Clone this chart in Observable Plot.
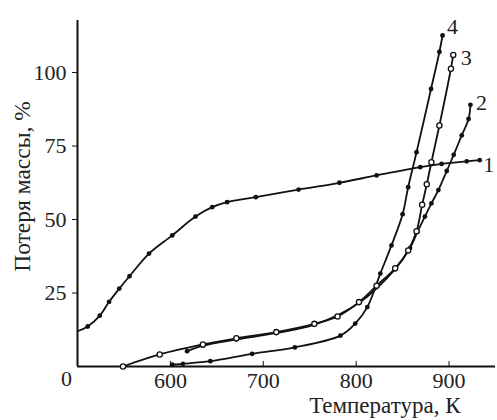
<!DOCTYPE html>
<html><head><meta charset="utf-8">
<script src="https://cdn.jsdelivr.net/npm/d3@7"></script>
<script src="https://cdn.jsdelivr.net/npm/@observablehq/plot@0.6"></script>
<style>
body{margin:0;background:#fff}
svg, svg text{font-family: "Liberation Serif", "Times New Roman", serif !important;}
</style>
</head><body><div id="chart"></div>
<script>
const series = ["1", "2", "3", "4"];
// Curve 1
const t1 = [500, 511, 524, 534, 545, 556, 577, 602, 627, 645, 661, 692, 738, 782, 822, 869, 892, 919, 933];
const w1 = [12, 13.6, 17.3, 22, 26.5, 30.7, 38.4, 44.6, 51, 54.2, 55.9, 57.6, 60.2, 62.5, 65, 67.8, 68.9, 69.8, 70.2];
// Curve 2
const t2 = [618, 635, 671, 714, 755, 803, 842, 858, 866, 874, 881, 888.5, 897.5, 905, 913.6, 921, 923];
const w2 = [5.2, 7.1, 9.2, 11.4, 14.2, 21.6, 33.1, 40.3, 45.8, 51, 55.5, 60, 66.5, 72, 78.6, 84.2, 89];
// Curve 3
const t3 = [549, 588.5, 635, 671, 714, 755, 780, 803, 822, 842, 856, 865, 871, 876, 881, 889.6, 902, 904.5];
const w3 = [0, 4.1, 7.5, 9.6, 11.7, 14.5, 17, 21.9, 27.5, 33.4, 39.5, 46, 55, 62, 69.5, 82, 101.3, 106];
// Curve 4
const t4 = [602, 613.6, 643, 688, 734, 783, 799, 812, 826, 838, 850, 856, 865, 880.6, 889.6, 893];
const w4 = [0.6, 0.9, 1.8, 4.3, 6.5, 10.5, 14.6, 20.2, 31.6, 41.2, 51.8, 61, 72.9, 94.4, 107, 112.6];

const xTicks = [600, 700, 800, 900];
const yTicks = [25, 50, 75, 100];
const xLabel = "Температура, К";
const yLabel = "Потеря массы, %";

const rows = [];
[[t1, w1], [t2, w2], [t3, w3], [t4, w4]].forEach(([t, w], i) =>
  t.forEach((x, j) => rows.push({s: series[i], t: x, w: w[j]})));
const lastOf = s => rows.filter(d => d.s === s).slice(-1)[0];
const labelOffsets = {"1": [9, 5], "2": [11, -2], "3": [13, 3], "4": [10, -9]};

const ink = "#111";
const chart = Plot.plot({
  width: 497, height: 420,
  marginLeft: 77, marginRight: 2, marginTop: 20, marginBottom: 54,
  style: {fontFamily: "Liberation Serif, serif", fontSize: "22px", color: "#222", background: "#fff"},
  x: {domain: [500, 950]},
  y: {domain: [0, 117.7]},
  marks: [
    Plot.axisX({ticks: xTicks, tickSize: -5, tickPadding: 11, label: null, stroke: ink, fontSize: 22}),
    Plot.axisY({ticks: yTicks, tickSize: 5, tickPadding: 6, label: null, stroke: ink, fontSize: 22}),
    Plot.ruleY([0], {stroke: ink, strokeWidth: 2}),
    Plot.ruleX([500], {stroke: ink, strokeWidth: 2}),
    Plot.line(rows, {x: "t", y: "w", z: "s", curve: "catmull-rom", stroke: ink, strokeWidth: 1.8}),
    Plot.dot(rows.filter(d => d.s !== "3" && !(d.s === "1" && d.t === 500)), {x: "t", y: "w", r: 2.4, fill: ink}),
    Plot.dot(rows.filter(d => d.s === "3"), {x: "t", y: "w", r: 2.6, fill: "white", stroke: ink, strokeWidth: 1.3}),
    ...series.map(s => Plot.text([lastOf(s)], {x: "t", y: "w", text: "s", dx: labelOffsets[s][0], dy: labelOffsets[s][1], fill: "#222", fontSize: 22})),
    Plot.text([{t: 500, w: 0, l: "0"}], {x: "t", y: "w", text: "l", dx: -11, dy: 12, fill: "#222", fontSize: 22}),
    Plot.text([xLabel], {frameAnchor: "bottom-right", dx: -35, dy: 46, textAnchor: "end", fill: "#222", fontSize: 23}),
    Plot.text([yLabel], {frameAnchor: "left", textAnchor: "middle", rotate: -90, dx: -55, dy: -7, fill: "#222", fontSize: 23.5})
  ]
});
document.getElementById("chart").appendChild(chart);
</script>
</body></html>
